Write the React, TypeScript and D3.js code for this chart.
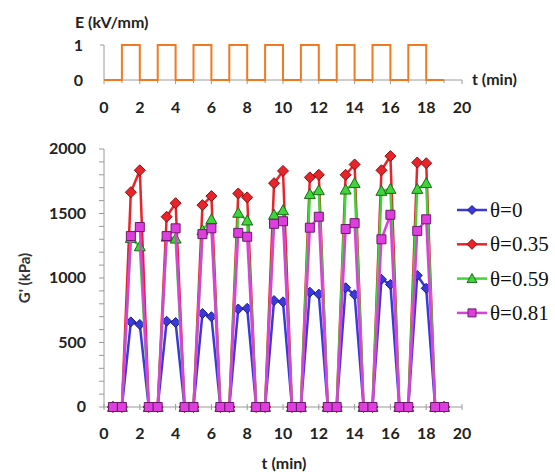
import * as d3 from "d3";

// top panel: applied field, step data
const eTime = [0, 1, 2, 3, 4, 5, 6, 7, 8, 9, 10, 11, 12, 13, 14, 15, 16, 17, 18, 19];
const eValue = [0, 1, 0, 1, 0, 1, 0, 1, 0, 1, 0, 1, 0, 1, 0, 1, 0, 1, 0, 0];

// bottom panel: G' (kPa) vs t (min)
const tMin = [
  0.5, 1, 1.5, 2, 2.5, 3, 3.5, 4, 4.5, 5, 5.5, 6, 6.5, 7, 7.5, 8, 8.5, 9, 9.5, 10,
  10.5, 11, 11.5, 12, 12.5, 13, 13.5, 14, 14.5, 15, 15.5, 16, 16.5, 17, 17.5, 18, 18.5, 19,
];
const theta0 = [
  0, 0, 660, 640, 0, 0, 665, 655, 0, 0, 725, 700, 0, 0, 760, 765, 0, 0, 825, 815,
  0, 0, 890, 875, 0, 0, 925, 870, 0, 0, 990, 950, 0, 0, 1020, 920, 0, 0,
];
const theta035 = [
  0, 0, 1665, 1835, 0, 0, 1475, 1580, 0, 0, 1565, 1635, 0, 0, 1655, 1625, 0, 0, 1735, 1830,
  0, 0, 1780, 1800, 0, 0, 1800, 1880, 0, 0, 1835, 1945, 0, 0, 1895, 1890, 0, 0,
];
const theta059 = [
  0, 0, 1310, 1245, 0, 0, 1320, 1305, 0, 0, 1370, 1455, 0, 0, 1505, 1445, 0, 0, 1490, 1525,
  0, 0, 1650, 1680, 0, 0, 1685, 1735, 0, 0, 1675, 1690, 0, 0, 1690, 1735, 0, 0,
];
const theta081 = [
  0, 0, 1325, 1395, 0, 0, 1325, 1385, 0, 0, 1340, 1385, 0, 0, 1350, 1320, 0, 0, 1420, 1440,
  0, 0, 1390, 1475, 0, 0, 1380, 1425, 0, 0, 1300, 1490, 0, 0, 1365, 1455, 0, 0,
];

const xTicks = [0, 2, 4, 6, 8, 10, 12, 14, 16, 18, 20];
const gTicks = [0, 500, 1000, 1500, 2000];

type Marker = "diamond" | "triangle" | "square";
const series: { label: string; values: number[]; color: string; edge: string; marker: Marker; size: number }[] = [
  { label: "θ=0", values: theta0, color: "#3a3ad8", edge: "#1c1c8c", marker: "diamond", size: 5 },
  { label: "θ=0.35", values: theta035, color: "#e8242a", edge: "#8a1010", marker: "diamond", size: 5.5 },
  { label: "θ=0.59", values: theta059, color: "#3fd43a", edge: "#1d6a1a", marker: "triangle", size: 5.5 },
  { label: "θ=0.81", values: theta081, color: "#de3ede", edge: "#6a1a6a", marker: "square", size: 4.5 },
];

const sans = "Lato, 'Open Sans', sans-serif";
const axisColor = "#9a9a9a";

function markerPath(m: Marker, s: number) {
  if (m === "diamond") return `M0,${-s}L${s},0L0,${s}L${-s},0Z`;
  if (m === "triangle") return `M0,${-s}L${s},${s * 0.8}L${-s},${s * 0.8}Z`;
  return `M${-s},${-s}H${s}V${s}H${-s}Z`;
}

export default function App() {
  const x = d3.scaleLinear().domain([0, 20]).range([104, 462]);
  const yTop = d3.scaleLinear().domain([0, 1]).range([80, 45]);
  const yBot = d3.scaleLinear().domain([0, 2000]).range([407, 149]);

  const stepLine = d3
    .line<number>()
    .x((d) => x(eTime[d]))
    .y((d) => yTop(eValue[d]))
    .curve(d3.curveStepAfter);

  const gLine = (vals: number[]) =>
    d3
      .line<number>()
      .x((_, i) => x(tMin[i]))
      .y((d) => yBot(d))(vals) || "";

  const unitTicks = d3.range(0, 21, 1);
  const minorG = d3.range(0, 2001, 100);

  return (
    <svg width={555} height={475} style={{ position: "absolute", left: 0, top: 0, background: "#fff" }}>
      {/* ---------- top panel ---------- */}
      <text x={75} y={28} fontFamily={sans} fontWeight={700} fontSize={16} fill="#222">
        E (kV/mm)
      </text>
      <line x1={x(0)} x2={x(0)} y1={yTop(1)} y2={yTop(0)} stroke={axisColor} />
      <line x1={x(0) - 4} x2={x(0)} y1={yTop(1)} y2={yTop(1)} stroke={axisColor} />
      <line x1={x(0)} x2={x(20)} y1={yTop(0)} y2={yTop(0)} stroke={axisColor} />
      {unitTicks.map((t) => (
        <line key={t} x1={x(t)} x2={x(t)} y1={yTop(0)} y2={yTop(0) + (t % 2 === 0 ? 4 : 3)} stroke={axisColor} />
      ))}
      {[0, 1].map((v) => (
        <text key={v} x={83} y={yTop(v) + 6} textAnchor="end" fontFamily={sans} fontWeight={700} fontSize={16} fill="#222">
          {v}
        </text>
      ))}
      {xTicks.map((t) => (
        <text key={t} x={x(t)} y={113} textAnchor="middle" fontFamily={sans} fontWeight={700} fontSize={16} fill="#222">
          {t}
        </text>
      ))}
      <text x={472} y={85} fontFamily={sans} fontWeight={700} fontSize={16} fill="#222">
        t (min)
      </text>
      <path d={stepLine(d3.range(eTime.length)) || ""} fill="none" stroke="#f07a22" strokeWidth={2} />

      {/* ---------- bottom panel ---------- */}
      <line x1={x(0)} x2={x(0)} y1={yBot(2000)} y2={yBot(0)} stroke={axisColor} />
      {minorG.map((v) => (
        <line key={v} x1={x(0) - 5} x2={x(0)} y1={yBot(v)} y2={yBot(v)} stroke={axisColor} />
      ))}
      <line x1={x(0)} x2={x(20)} y1={yBot(0)} y2={yBot(0)} stroke={axisColor} />
      {unitTicks.map((t) => (
        <line key={t} x1={x(t)} x2={x(t)} y1={yBot(0) - 3} y2={yBot(0) + 3} stroke={axisColor} />
      ))}
      {gTicks.map((v) => (
        <text key={v} x={86} y={yBot(v) + 5} textAnchor="end" fontFamily={sans} fontWeight={700} fontSize={16} fill="#222">
          {v}
        </text>
      ))}
      {xTicks.map((t) => (
        <text key={t} x={x(t)} y={439} textAnchor="middle" fontFamily={sans} fontWeight={700} fontSize={16} fill="#222">
          {t}
        </text>
      ))}
      <text x={284} y={469} textAnchor="middle" fontFamily={sans} fontWeight={700} fontSize={16} fill="#222">
        t (min)
      </text>
      <text
        transform={`translate(30,${(yBot(0) + yBot(2000)) / 2}) rotate(-90)`}
        textAnchor="middle"
        fontFamily={sans}
        fontWeight={700}
        fontSize={15}
        fill="#333"
      >
        G' (kPa)
      </text>

      {series.map((s) => (
        <g key={s.label}>
          <path d={gLine(s.values)} fill="none" stroke={s.color} strokeWidth={2.5} strokeLinejoin="round" />
          {s.values.map((v, i) => (
            <path
              key={i}
              d={markerPath(s.marker, s.size)}
              transform={`translate(${x(tMin[i])},${yBot(v)})`}
              fill={s.color}
              stroke={s.edge}
              strokeWidth={1}
            />
          ))}
        </g>
      ))}

      {/* legend */}
      {series.map((s, i) => {
        const ly = 210 + i * 34.3;
        return (
          <g key={s.label}>
            <line x1={457} x2={487} y1={ly} y2={ly} stroke={s.color} strokeWidth={2.5} />
            <path d={markerPath(s.marker, s.size - 0.5)} transform={`translate(472,${ly})`} fill={s.color} stroke={s.edge} />
            <text x={490} y={ly + 7} fontFamily="'Liberation Serif', serif" fontSize={21} fill="#111">
              {s.label}
            </text>
          </g>
        );
      })}
    </svg>
  );
}
